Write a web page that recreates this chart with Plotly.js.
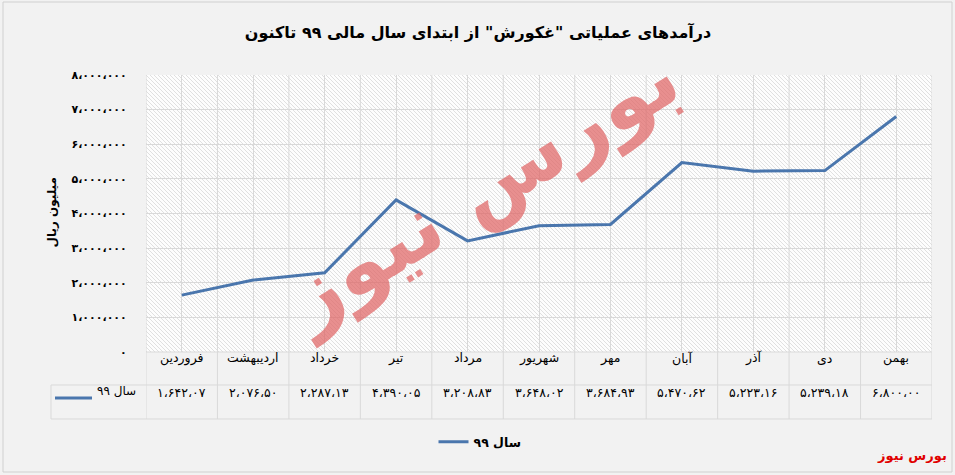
<!DOCTYPE html>
<html>
<head>
<meta charset="utf-8">
<script src="https://cdn.plot.ly/plotly-3.0.1.min.js"></script>
<style>html,body{margin:0;padding:0;background:#f2f2f2;}#chart{width:955px;height:475px;}</style>
</head>
<body>
<div id="chart"></div>
<script>
// ---- data ----
const months = ['فروردین','اردیبهشت','خرداد','تیر','مرداد','شهریور','مهر','آبان','آذر','دی','بهمن'];
const seriesName = 'سال ۹۹';
const values = [1642070, 2076500, 2287130, 4390050, 3208830, 3648020, 3684930, 5470620, 5223160, 5239180, 6800000];
const valueLabels = ['۱،۶۴۲،۰۷','۲،۰۷۶،۵۰','۲،۲۸۷،۱۳','۴،۳۹۰،۰۵','۳،۲۰۸،۸۳','۳،۶۴۸،۰۲','۳،۶۸۴،۹۳','۵،۴۷۰،۶۲','۵،۲۲۳،۱۶','۵،۲۳۹،۱۸','۶،۸۰۰،۰۰'];
const yTickVals = [0, 1000000, 2000000, 3000000, 4000000, 5000000, 6000000, 7000000, 8000000];
const yTickText = ['۰','۱،۰۰۰،۰۰۰','۲،۰۰۰،۰۰۰','۳،۰۰۰،۰۰۰','۴،۰۰۰،۰۰۰','۵،۰۰۰،۰۰۰','۶،۰۰۰،۰۰۰','۷،۰۰۰،۰۰۰','۸،۰۰۰،۰۰۰'];
const titleText = 'درآمدهای عملیاتی "غکورش" از ابتدای سال مالی ۹۹ تاکنون';
const yTitle = 'میلیون ریال';
const watermark = 'بورس نیوز';

// ---- layout helpers ----
const W = 955, H = 475;
const L = 146, R = 23, T = 75, B = 123;
const PW = W - L - R, PH = H - T - B;
const px = x => (x - L) / PW;          // pixel x -> paper x
const py = y => (H - B - y) / PH;      // pixel y -> paper y
const lineCol = '#d9d9d9';
const font = 'DejaVu Sans, sans-serif';

const hatch = '<svg xmlns="http://www.w3.org/2000/svg" width="' + PW + '" height="' + PH + '">' +
  '<defs><pattern id="p" patternUnits="userSpaceOnUse" width="4" height="4">' +
  '<path d="M-1,-1 L5,5 M-1,3 L1,5 M3,-1 L5,1" stroke="#dcdcdc" stroke-width="0.9"/></pattern></defs>' +
  '<rect width="100%" height="100%" fill="#fdfdfd"/><rect width="100%" height="100%" fill="url(#p)"/></svg>';

const shapes = [];
const annotations = [];
// table horizontal lines
shapes.push({type:'line', xref:'paper', yref:'paper', x0:0, x1:1, y0:0, y1:0, line:{color:lineCol, width:1}});
shapes.push({type:'line', xref:'paper', yref:'paper', x0:px(51), x1:1, y0:py(385), y1:py(385), line:{color:lineCol, width:1}});
shapes.push({type:'line', xref:'paper', yref:'paper', x0:px(51), x1:1, y0:py(419), y1:py(419), line:{color:lineCol, width:1}});
shapes.push({type:'line', xref:'paper', yref:'paper', x0:px(51), x1:px(51), y0:py(385), y1:py(419), line:{color:lineCol, width:1}});
// category boundaries (plot gridlines + table columns)
for (let k = 0; k <= months.length; k++) {
  shapes.push({type:'line', xref:'x', yref:'paper', x0:k - 0.5, x1:k - 0.5, y0:py(419), y1:1, line:{color:lineCol, width:1}, layer:'below'});
}
// table text
months.forEach((m, i) => {
  annotations.push({xref:'x', yref:'paper', x:m, y:py(368), text:m, showarrow:false, font:{family:font, size:12.5, color:'#000'}});
  annotations.push({xref:'x', yref:'paper', x:m, y:py(402), text:valueLabels[i], showarrow:false, font:{family:font, size:12.5, color:'#000'}});
});
// series key in table
shapes.push({type:'line', xref:'paper', yref:'paper', x0:px(55), x1:px(92), y0:py(398), y1:py(398), line:{color:'#4a76ad', width:3}});
annotations.push({xref:'paper', yref:'paper', x:px(138), y:py(400), xanchor:'right', text:seriesName, showarrow:false, font:{family:font, size:12, color:'#000'}});
// y title
annotations.push({xref:'paper', yref:'paper', x:px(42), y:py(213), text:yTitle, textangle:-90, showarrow:false, font:{family:font, size:12, color:'#000', weight:'bold'}});
// watermark
annotations.push({xref:'paper', yref:'paper', x:px(480), y:py(188), text:watermark, textangle:-32, showarrow:false, opacity:0.72, font:{family:font, size:84, color:'#e06666', weight:'bold'}});
// source mark
annotations.push({xref:'paper', yref:'paper', x:px(949), y:py(465), xanchor:'right', text:'<b>' + watermark + '</b>', showarrow:false, font:{family:font, size:13, color:'#e00000'}});
// outer frame
shapes.push({type:'rect', xref:'paper', yref:'paper', x0:px(3), x1:px(952), y0:py(2), y1:py(472), line:{color:'#d0d0d0', width:1}});

const trace = {
  type:'scatter', mode:'lines', name:seriesName,
  x: months, y: values,
  line:{color:'#4a76ad', width:3}, hoverinfo:'skip'
};

const layout = {
  width: W, height: H,
  margin:{l:L, r:R, t:T, b:B},
  paper_bgcolor:'#f2f2f2', plot_bgcolor:'#fdfdfd',
  title:{text:titleText, x:px(478), xref:'paper', xanchor:'center', y:1 - 32 / H, yanchor:'middle', font:{family:font, size:16, color:'#000', weight:'bold'}},
  xaxis:{type:'category', range:[-0.5, months.length - 0.5], showticklabels:false, showgrid:true, gridcolor:lineCol, zeroline:false, showline:false, ticks:'', fixedrange:true},
  yaxis:{range:[0, 8000000], tickvals:yTickVals, ticktext:yTickText, showgrid:true, gridcolor:lineCol, zeroline:false, showline:false,
         ticks:'outside', ticklen:16, tickcolor:'rgba(0,0,0,0)', tickfont:{family:font, size:11, color:'#000', weight:'bold'}, fixedrange:true},
  showlegend:true,
  legend:{orientation:'h', x:px(480), xanchor:'center', y:py(442), yanchor:'middle', bgcolor:'rgba(0,0,0,0)', font:{family:font, size:12.5, color:'#000', weight:'bold'}},
  images:[{source:'data:image/svg+xml;charset=utf-8,' + encodeURIComponent(hatch), xref:'paper', yref:'paper', x:0, y:1, sizex:1, sizey:1, sizing:'stretch', layer:'below'}],
  shapes: shapes,
  annotations: annotations
};

Plotly.newPlot('chart', [trace], layout, {displayModeBar:false, staticPlot:true});
</script>
</body>
</html>
